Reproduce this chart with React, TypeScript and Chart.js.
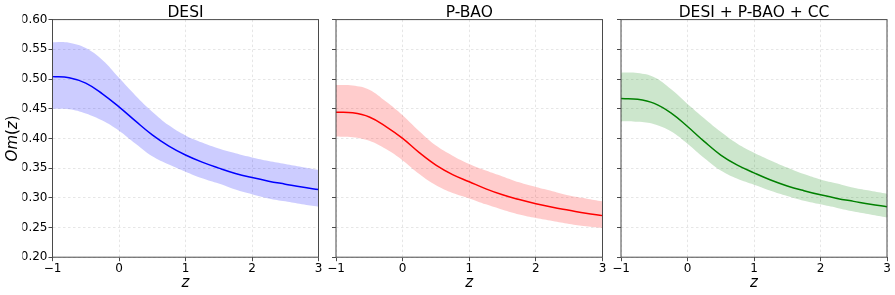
import React, { useEffect, useRef } from 'react';
import { Chart, registerables } from 'chart.js';

Chart.register(...registerables);

// ---- data ----
const zValues = [-1, -0.75, -0.5, -0.25, 0, 0.25, 0.5, 0.75, 1, 1.25, 1.5, 1.75, 2, 2.25, 2.5, 2.75, 3];

const desiMid = [0.504, 0.502, 0.493, 0.475, 0.453, 0.429, 0.406, 0.387, 0.372, 0.360, 0.350, 0.341, 0.334, 0.328, 0.323, 0.318, 0.314];
const desiUpper = [0.562, 0.561, 0.552, 0.532, 0.502, 0.472, 0.445, 0.422, 0.405, 0.393, 0.383, 0.375, 0.368, 0.362, 0.357, 0.352, 0.347];
const desiLower = [0.450, 0.449, 0.442, 0.430, 0.413, 0.391, 0.370, 0.356, 0.344, 0.333, 0.324, 0.314, 0.306, 0.299, 0.294, 0.289, 0.285];

const pbaoMid = [0.444, 0.443, 0.436, 0.420, 0.400, 0.376, 0.355, 0.339, 0.327, 0.315, 0.305, 0.297, 0.290, 0.284, 0.279, 0.274, 0.270];
const pbaoUpper = [0.490, 0.489, 0.482, 0.462, 0.439, 0.412, 0.388, 0.371, 0.357, 0.346, 0.336, 0.326, 0.318, 0.311, 0.304, 0.299, 0.294];
const pbaoLower = [0.403, 0.402, 0.396, 0.382, 0.363, 0.340, 0.321, 0.308, 0.299, 0.289, 0.280, 0.272, 0.266, 0.261, 0.256, 0.252, 0.249];

const combMid = [0.467, 0.466, 0.459, 0.443, 0.420, 0.395, 0.372, 0.355, 0.342, 0.330, 0.320, 0.312, 0.305, 0.299, 0.294, 0.289, 0.285];
const combUpper = [0.511, 0.510, 0.503, 0.483, 0.458, 0.434, 0.411, 0.391, 0.376, 0.363, 0.351, 0.340, 0.331, 0.324, 0.317, 0.312, 0.307];
const combLower = [0.429, 0.428, 0.424, 0.412, 0.391, 0.367, 0.346, 0.332, 0.322, 0.312, 0.303, 0.295, 0.289, 0.283, 0.277, 0.272, 0.267];

const panelTitles = ['DESI', 'P-BAO', 'DESI + P-BAO + CC'];
const xTickValues = [-1, 0, 1, 2, 3];
const yMin = 0.2;
const yMax = 0.6;
const yStep = 0.05;
const xLabel = 'z';

// ---- styling ----
const W = 895;
const H = 295;
const FONT = '"DejaVu Sans", "Liberation Sans", sans-serif';
const areaTop = 19.6;
const areaBottom = 257.2;
const areaLefts = [52.5, 336, 621];
const areaRights = [318.5, 602.5, 887];
const Y_SCALE_W = 30;
const X_SCALE_H = 20;
const SPINE = '#4a4a4a';
const GRID = '#e0e0e0';

const panels = [
  { mid: desiMid, upper: desiUpper, lower: desiLower, line: '#0000ff', band: 'rgba(0,0,255,0.2)' },
  { mid: pbaoMid, upper: pbaoUpper, lower: pbaoLower, line: '#ff0000', band: 'rgba(255,0,0,0.2)' },
  { mid: combMid, upper: combUpper, lower: combLower, line: '#008000', band: 'rgba(0,128,0,0.2)' },
];

const toPts = (ys: number[]) => zValues.map((x, i) => ({ x, y: ys[i] }));

function makeDecor(idx: number) {
  return {
    id: 'decor' + idx,
    afterDraw(chart: any) {
      const ctx = chart.ctx;
      const a = chart.chartArea;
      ctx.save();
      ctx.strokeStyle = SPINE;
      ctx.lineWidth = 1;
      ctx.setLineDash([]);
      ctx.strokeRect(a.left, a.top, a.right - a.left, a.bottom - a.top);
      const cx = (a.left + a.right) / 2;
      ctx.fillStyle = '#000';
      ctx.textAlign = 'center';
      ctx.textBaseline = 'alphabetic';
      ctx.font = '15.5px ' + FONT;
      ctx.fillText(panelTitles[idx], cx, 16.5);
      ctx.font = 'italic 15px ' + FONT;
      ctx.fillText(xLabel, cx, 287);
      if (idx === 0) {
        ctx.translate(17, (a.top + a.bottom) / 2);
        ctx.rotate(-Math.PI / 2);
        const parts: [string, boolean][] = [['Om', true], ['(', false], ['z', true], [')', false]];
        const fontFor = (it: boolean) => (it ? 'italic ' : '') + '15px ' + FONT;
        let total = 0;
        for (const [t, it] of parts) { ctx.font = fontFor(it); total += ctx.measureText(t).width; }
        let x = -total / 2;
        ctx.textAlign = 'left';
        for (const [t, it] of parts) {
          ctx.font = fontFor(it);
          ctx.fillText(t, x, 0);
          x += ctx.measureText(t).width;
        }
      }
      ctx.restore();
    },
  };
}

function Panel({ idx }: { idx: number }) {
  const ref = useRef<HTMLCanvasElement>(null);
  useEffect(() => {
    const p = panels[idx];
    const chart = new Chart(ref.current as HTMLCanvasElement, {
      type: 'line',
      data: {
        datasets: [
          { data: toPts(p.upper), borderWidth: 0, borderColor: 'rgba(0,0,0,0)', backgroundColor: p.band, fill: '+1', pointRadius: 0, tension: 0.4 },
          { data: toPts(p.lower), borderWidth: 0, borderColor: 'rgba(0,0,0,0)', backgroundColor: p.band, fill: false, pointRadius: 0, tension: 0.4 },
          { data: toPts(p.mid), borderWidth: 1.5, borderColor: p.line, fill: false, pointRadius: 0, tension: 0.4 },
        ],
      } as any,
      options: {
        responsive: false,
        devicePixelRatio: 1,
        animation: false,
        events: [],
        layout: {
          padding: {
            left: areaLefts[idx] - Y_SCALE_W,
            right: W - areaRights[idx],
            top: areaTop,
            bottom: H - areaBottom - X_SCALE_H,
          },
        },
        plugins: { legend: { display: false }, tooltip: { enabled: false }, title: { display: false } },
        scales: {
          x: {
            type: 'linear',
            min: -1,
            max: 3,
            afterBuildTicks: (s: any) => { s.ticks = xTickValues.map((v) => ({ value: v })); },
            afterFit: (s: any) => { s.height = X_SCALE_H; s.paddingLeft = 0; s.paddingRight = 0; },
            ticks: {
              autoSkip: false,
              maxRotation: 0,
              padding: 0,
              color: '#000',
              font: { family: FONT, size: 12 },
              callback: (v: any) => (Number(v) < 0 ? '\u2212' + Math.abs(Number(v)) : String(v)),
            },
            grid: { color: GRID, lineWidth: 0.8, tickColor: SPINE, tickLength: 4, tickWidth: 1, tickBorderDash: [] },
            border: { display: false, dash: [2.5, 2.5] },
          },
          y: {
            type: 'linear',
            min: yMin,
            max: yMax,
            afterBuildTicks: (s: any) => {
              const t = [];
              for (let i = 0; i <= Math.round((yMax - yMin) / yStep); i++) t.push({ value: +(yMin + i * yStep).toFixed(2) });
              s.ticks = t;
            },
            afterFit: (s: any) => { s.width = Y_SCALE_W; s.paddingTop = 0; s.paddingBottom = 0; },
            ticks: {
              padding: 1,
              color: '#000',
              font: { family: FONT, size: 12 },
              callback: (v: any) => (idx === 0 ? Number(v).toFixed(2) : ''),
            },
            grid: { color: GRID, lineWidth: 0.8, tickColor: SPINE, tickLength: 4, tickWidth: 1, tickBorderDash: [] },
            border: { display: false, dash: [2.5, 2.5] },
          },
        },
      } as any,
      plugins: [makeDecor(idx)],
    });
    return () => chart.destroy();
  }, [idx]);
  return (
    <canvas
      ref={ref}
      width={W}
      height={H}
      style={{ position: 'absolute', left: 0, top: 0, width: W, height: H }}
    />
  );
}

export default function App() {
  return (
    <div style={{ position: 'absolute', left: 0, top: 0, width: W, height: H, background: '#fff' }}>
      <Panel idx={0} />
      <Panel idx={1} />
      <Panel idx={2} />
    </div>
  );
}
